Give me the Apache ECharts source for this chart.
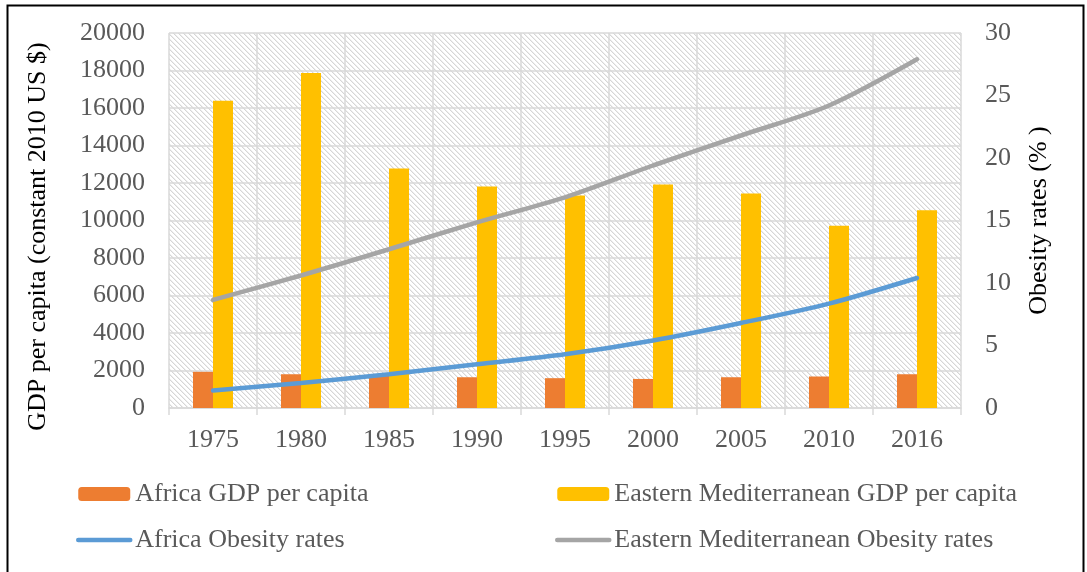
<!DOCTYPE html>
<html>
<head>
<meta charset="utf-8">
<script src="https://cdn.jsdelivr.net/npm/echarts@6/dist/echarts.min.js"></script>
<style>
html,body{margin:0;padding:0;background:#fff;}
#chart{width:1087px;height:572px;}
</style>
</head>
<body>
<div id="chart"></div>
<script>
var years = ['1975','1980','1985','1990','1995','2000','2005','2010','2016'];
var africaGDP = [1930, 1800, 1780, 1640, 1590, 1550, 1640, 1680, 1800];
var emGDP = [16390, 17870, 12770, 11810, 11330, 11920, 11440, 9720, 10550];
var africaObesity = [1.4, 2.0, 2.7, 3.5, 4.3, 5.4, 6.8, 8.35, 10.4];
var emObesity = [8.65, 10.6, 12.7, 14.85, 16.85, 19.4, 21.8, 24.2, 27.9];
var leftTicks = {min: 0, max: 20000, interval: 2000};
var rightTicks = {min: 0, max: 30, interval: 5};

// hatch pattern for plot background
var pc = document.createElement('canvas');
pc.width = 5; pc.height = 5;
var pctx = pc.getContext('2d');
pctx.fillStyle = '#ffffff';
pctx.fillRect(0, 0, 5, 5);
for (var i = 0; i < 5; i++) {
  pctx.fillStyle = '#d6d6d6';
  pctx.fillRect(i, i, 1, 1);
  pctx.fillStyle = '#eeeeee';
  pctx.fillRect((i + 1) % 5, i, 1, 1);
}

var font = 'Liberation Serif, Times New Roman, serif';
var gray = '#595959';
var gridColor = '#d9d9d9';
var legendText = {fontFamily: font, fontSize: 26, color: gray, lineHeight: 26};

var chart = echarts.init(document.getElementById('chart'));
chart.setOption({
  animation: false,
  textStyle: {fontFamily: font},
  grid: {left: 169, right: 126, top: 33, bottom: 164, show: true,
         backgroundColor: {image: pc, repeat: 'repeat'}, borderWidth: 0},
  legend: [{
    orient: 'vertical', left: 76, top: 481, padding: 0,
    itemWidth: 52, itemHeight: 14, itemGap: 20,
    textStyle: legendText,
    data: ['Africa GDP per capita',
           {name: 'Africa Obesity rates', itemStyle: {opacity: 0},
            lineStyle: {width: 4.5, cap: 'round', color: '#5B9BD5'}}]
  }, {
    orient: 'vertical', left: 555, top: 481, padding: 0,
    itemWidth: 52, itemHeight: 14, itemGap: 20,
    textStyle: legendText,
    data: ['Eastern Mediterranean GDP per capita',
           {name: 'Eastern Mediterranean Obesity rates', itemStyle: {opacity: 0},
            lineStyle: {width: 4.5, cap: 'round', color: '#A5A5A5'}}]
  }],
  xAxis: {
    type: 'category', data: years,
    axisLine: {show: true, lineStyle: {color: gridColor, width: 1.5}},
    axisTick: {show: true, length: 7, lineStyle: {color: gridColor, width: 1.5}},
    axisLabel: {fontFamily: font, fontSize: 26, color: gray, margin: 19},
    splitLine: {show: true, interval: 0, lineStyle: {color: gridColor, width: 1.5}}
  },
  yAxis: [{
    type: 'value', min: leftTicks.min, max: leftTicks.max, interval: leftTicks.interval,
    name: 'GDP per capita (constant 2010 US $)', nameLocation: 'middle', nameGap: 118,
    nameTextStyle: {fontFamily: font, fontSize: 26, color: '#000', padding: [0, 32, 0, 0]},
    axisLine: {show: false}, axisTick: {show: false},
    axisLabel: {fontFamily: font, fontSize: 26, color: gray, margin: 24,
                formatter: function (v) { return String(v); }},
    splitLine: {show: true, lineStyle: {color: gridColor, width: 1.5}}
  }, {
    type: 'value', min: rightTicks.min, max: rightTicks.max, interval: rightTicks.interval,
    position: 'right',
    name: 'Obesity rates (% )', nameLocation: 'middle', nameGap: 65,
    nameTextStyle: {fontFamily: font, fontSize: 26, color: '#000'},
    axisLine: {show: false}, axisTick: {show: false},
    axisLabel: {fontFamily: font, fontSize: 26, color: gray, margin: 24},
    splitLine: {show: false}
  }],
  series: [{
    name: 'Africa GDP per capita', type: 'bar', data: africaGDP,
    barWidth: 20, barGap: '0%', itemStyle: {color: '#ED7D31'}
  }, {
    name: 'Eastern Mediterranean GDP per capita', type: 'bar', data: emGDP,
    barWidth: 20, barGap: '0%', itemStyle: {color: '#FFC000'}
  }, {
    name: 'Africa Obesity rates', type: 'line', yAxisIndex: 1, data: africaObesity,
    smooth: 0.3, showSymbol: false, symbol: 'circle', z: 5,
    lineStyle: {color: '#5B9BD5', width: 4.5, cap: 'round'}, itemStyle: {color: '#5B9BD5'}
  }, {
    name: 'Eastern Mediterranean Obesity rates', type: 'line', yAxisIndex: 1, data: emObesity,
    smooth: 0.3, showSymbol: false, symbol: 'circle', z: 5,
    lineStyle: {color: '#A5A5A5', width: 4.5, cap: 'round'}, itemStyle: {color: '#A5A5A5'}
  }],
  graphic: [{
    type: 'rect', left: 5, top: 3, z: 100, silent: true,
    shape: {x: 0, y: 0, width: 1076, height: 590},
    style: {fill: 'none', stroke: '#000', lineWidth: 2}
  }]
});
</script>
</body>
</html>
